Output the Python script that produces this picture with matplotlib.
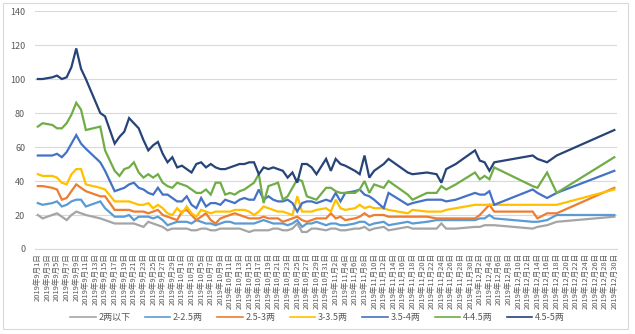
import matplotlib
matplotlib.use("Agg")
import matplotlib.pyplot as plt
import pandas as pd
from matplotlib.patches import Rectangle

plt.rcParams['font.family'] = ['Noto Sans CJK SC', 'DejaVu Sans']

# price dates (rows of ten, same layout as the series below)
dates = [
    "2019-09-01", "2019-09-02", "2019-09-04", "2019-09-05", "2019-09-06", "2019-09-07", "2019-09-08", "2019-09-09", "2019-09-10", "2019-09-11",
    "2019-09-14", "2019-09-15", "2019-09-17", "2019-09-18", "2019-09-19", "2019-09-20", "2019-09-21", "2019-09-22", "2019-09-23", "2019-09-24",
    "2019-09-25", "2019-09-26", "2019-09-27", "2019-09-28", "2019-09-29", "2019-09-30", "2019-10-01", "2019-10-02", "2019-10-03", "2019-10-04",
    "2019-10-05", "2019-10-06", "2019-10-07", "2019-10-08", "2019-10-09", "2019-10-10", "2019-10-11", "2019-10-12", "2019-10-13", "2019-10-14",
    "2019-10-15", "2019-10-16", "2019-10-17", "2019-10-18", "2019-10-19", "2019-10-20", "2019-10-21", "2019-10-22", "2019-10-23", "2019-10-24",
    "2019-10-25", "2019-10-26", "2019-10-27", "2019-10-28", "2019-10-29", "2019-10-31", "2019-11-01", "2019-11-02", "2019-11-03", "2019-11-04",
    "2019-11-06", "2019-11-07", "2019-11-08", "2019-11-09", "2019-11-10", "2019-11-12", "2019-11-13", "2019-11-17", "2019-11-18", "2019-11-21",
    "2019-11-23", "2019-11-24", "2019-11-25", "2019-11-27", "2019-12-01", "2019-12-02", "2019-12-03", "2019-12-04", "2019-12-05", "2019-12-13",
    "2019-12-14", "2019-12-16", "2019-12-18", "2019-12-30",
]

below_2 = [
    20, 18, 20, 21, 19, 17, 20, 22, 21, 20,
    18, 17, 15, 15, 15, 15, 15, 14, 13, 16,
    15, 14, 13, 11, 12, 12, 12, 12, 11, 11,
    12, 12, 11, 11, 12, 12, 12, 12, 12, 11,
    10, 11, 11, 11, 11, 12, 12, 11, 11, 12,
    15, 10, 10, 12, 12, 11, 12, 12, 11, 11,
    12, 12, 13, 11, 12, 13, 11, 13, 12, 12,
    12, 15, 12, 12, 13, 13, 14, 14, 14, 12,
    13, 14, 16, 19,
]
size_2_25 = [
    27, 26, 27, 28, 25, 26, 28, 29, 29, 25,
    28, 24, 19, 19, 19, 20, 17, 19, 19, 19,
    18, 19, 17, 14, 15, 16, 16, 16, 15, 17,
    16, 15, 15, 14, 15, 16, 16, 15, 15, 15,
    15, 15, 16, 17, 16, 15, 15, 15, 14, 15,
    17, 13, 15, 15, 16, 14, 15, 15, 14, 14,
    15, 16, 16, 14, 15, 16, 14, 16, 15, 16,
    17, 17, 17, 17, 17, 18, 18, 20, 18, 16,
    16, 17, 20, 20,
]
size_25_3 = [
    37, 37, 36, 35, 29, 30, 34, 38, 36, 34,
    31, 31, 23, 23, 23, 23, 22, 22, 22, 21,
    22, 23, 20, 19, 18, 17, 22, 23, 20, 17,
    19, 21, 17, 15, 18, 19, 20, 21, 20, 19,
    18, 18, 18, 19, 18, 18, 18, 16, 17, 18,
    19, 17, 16, 17, 18, 18, 21, 18, 19, 17,
    18, 19, 21, 19, 20, 20, 19, 19, 19, 19,
    18, 18, 18, 18, 18, 20, 23, 26, 22, 22,
    18, 21, 21, 36,
]
size_3_35 = [
    44, 43, 43, 42, 39, 38, 44, 47, 47, 38,
    36, 35, 28, 28, 28, 28, 27, 26, 26, 27,
    24, 26, 24, 21, 20, 24, 21, 25, 21, 19,
    23, 22, 21, 22, 22, 22, 22, 23, 23, 23,
    22, 20, 22, 25, 24, 23, 22, 22, 21, 20,
    31, 22, 22, 22, 23, 24, 22, 29, 24, 23,
    24, 26, 24, 25, 24, 24, 23, 21, 23, 22,
    22, 22, 23, 24, 26, 26, 26, 26, 26, 26,
    26, 26, 26, 35,
]
size_35_4 = [
    55, 55, 55, 56, 54, 57, 62, 67, 62, 59,
    51, 46, 34, 35, 36, 38, 39, 36, 35, 33,
    32, 36, 32, 32, 30, 28, 28, 31, 26, 24,
    30, 25, 27, 27, 26, 29, 28, 27, 29, 30,
    29, 29, 35, 29, 31, 29, 28, 28, 29, 27,
    22, 27, 28, 28, 27, 29, 28, 33, 28, 33,
    34, 35, 32, 31, 29, 24, 33, 26, 27, 29,
    29, 29, 28, 29, 33, 32, 32, 34, 26, 35,
    33, 30, 33, 46,
]
size_4_45 = [
    72, 74, 73, 71, 71, 74, 79, 86, 82, 70,
    72, 58, 46, 43, 47, 48, 51, 45, 42, 44,
    42, 44, 39, 37, 36, 39, 38, 37, 35, 33,
    33, 35, 32, 39, 39, 32, 33, 32, 34, 35,
    37, 39, 44, 27, 37, 38, 39, 29, 31, 36,
    41, 40, 31, 30, 29, 36, 36, 34, 33, 33,
    33, 35, 40, 33, 38, 36, 40, 32, 29, 33,
    33, 37, 35, 38, 45, 41, 43, 41, 48, 37,
    36, 45, 33, 54,
]
size_45_5 = [
    100, 100, 101, 102, 100, 101, 107, 118, 106, 100,
    80, 78, 62, 66, 69, 77, 74, 71, 64, 58,
    61, 63, 56, 51, 54, 48, 49, 47, 45, 50,
    51, 48, 50, 48, 47, 47, 48, 49, 50, 50,
    51, 51, 44, 48, 47, 48, 47, 46, 42, 45,
    39, 50, 50, 48, 44, 53, 46, 53, 50, 49,
    46, 44, 55, 42, 46, 50, 53, 45, 44, 45,
    44, 39, 47, 50, 58, 52, 51, 46, 51, 55,
    53, 51, 55, 70,
]

labels = ["2两以下", "2-2.5两", "2.5-3两", "3-3.5两", "3.5-4两", "4-4.5两", "4.5-5两"]
colors = ["#A5A5A5", "#5B9BD5", "#ED7D31", "#FFC000", "#4472C4", "#70AD47", "#264478"]
values = [below_2, size_2_25, size_25_3, size_3_35, size_35_4, size_4_45, size_45_5]

fig = plt.figure(figsize=(6.35, 3.34), dpi=100)
ax = fig.add_axes([0.055, 0.2545, 0.917, 0.7125])

x = pd.to_datetime(dates)
for lab, vals, col in zip(labels, values, colors):
    ax.plot(x, vals, color=col, lw=1.6, label=lab, solid_joinstyle="miter")

ax.set_ylim(0, 140)
ax.set_yticks(range(0, 141, 20))

ticks = pd.date_range("2019-09-01", "2019-12-30", freq="2D")
ax.set_xticks(ticks)
ax.set_xticklabels([f"{d.year}年{d.month}月{d.day}日" for d in ticks],
                   rotation=90, fontsize=5.4, color="#595959")
ax.set_xlim(ticks[0] - pd.Timedelta(days=0.6), ticks[-1] + pd.Timedelta(days=0.6))

ax.tick_params(axis="y", labelsize=6.5, labelcolor="#595959", length=0, pad=7)
ax.tick_params(axis="x", length=0, pad=3)
ax.grid(axis="y", color="#D9D9D9", lw=0.8)
ax.set_axisbelow(True)
for side in ["top", "right", "left"]:
    ax.spines[side].set_visible(False)
ax.spines["bottom"].set_color("#D9D9D9")

leg = fig.legend(loc="center", bbox_to_anchor=(0.5, 0.048), ncol=7, frameon=False,
                 fontsize=6.5, handlelength=2.8, handletextpad=0.3,
                 columnspacing=1.6, labelcolor="#595959")
for line in leg.get_lines():
    line.set_linewidth(1.2)

fig.patches.append(Rectangle((0.005, 0.015), 0.984, 0.976, transform=fig.transFigure,
                             fill=False, edgecolor="#D9D9D9", lw=0.8))

fig.savefig("out.png", dpi=100)
